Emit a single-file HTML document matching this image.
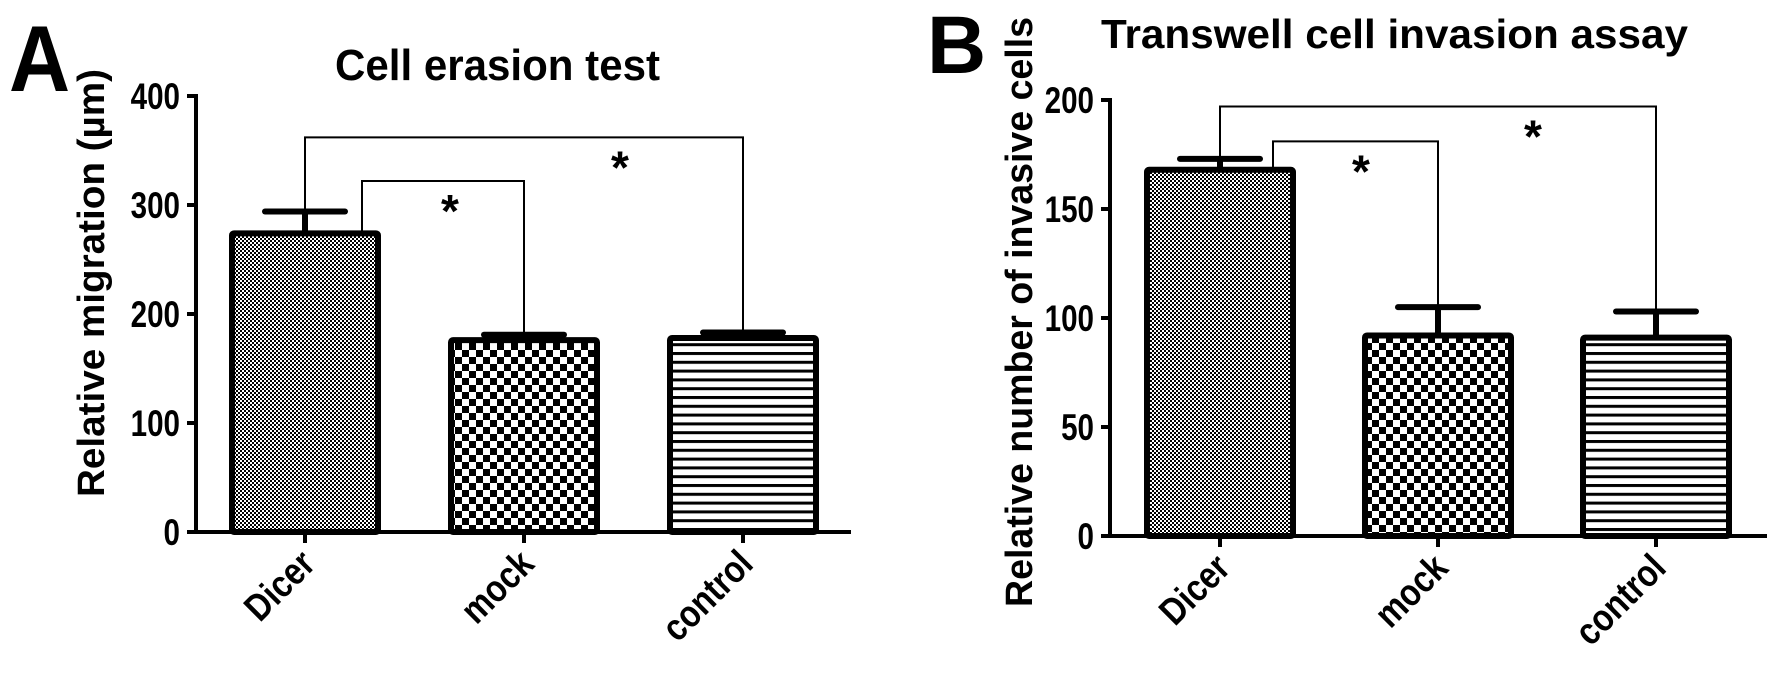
<!DOCTYPE html>
<html><head><meta charset="utf-8"><style>
html,body{margin:0;padding:0;background:#fff;}
svg{display:block;}
text{font-family:"Liberation Sans",sans-serif;font-weight:bold;fill:#000;}
</style></head><body>
<svg id="fig" width="1769" height="680" viewBox="0 0 1769 680" xmlns="http://www.w3.org/2000/svg">
<defs>
<pattern id="pFine" width="4" height="4" patternUnits="userSpaceOnUse">
<rect width="4" height="4" fill="#000"/><rect x="0" y="0" width="2" height="2" fill="#fff"/><rect x="2" y="2" width="2" height="2" fill="#fff"/>
</pattern>
<pattern id="pCheck" width="14" height="14" patternUnits="userSpaceOnUse">
<rect width="14" height="14" fill="#fff"/><rect x="0" y="0" width="7" height="7" fill="#000"/><rect x="7" y="7" width="7" height="7" fill="#000"/>
</pattern>
<pattern id="pStripe" width="10" height="8.8" patternUnits="userSpaceOnUse">
<rect width="10" height="8.8" fill="#fff"/><rect x="0" y="0" width="10" height="3" fill="#000"/>
</pattern>
</defs>
<text transform="translate(9,91) scale(0.9,1)" font-size="94">A</text>
<text transform="translate(927,73) scale(1.0,1)" font-size="82">B</text>
<text x="335" y="80" font-size="44" textLength="325" lengthAdjust="spacingAndGlyphs">Cell erasion test</text>
<text x="1101" y="48" font-size="41" textLength="587" lengthAdjust="spacingAndGlyphs">Transwell cell invasion assay</text>
<text transform="translate(104,283) rotate(-90)" text-anchor="middle" font-size="38" textLength="428" lengthAdjust="spacingAndGlyphs">Relative migration (µm)</text>
<text transform="translate(1032,312) rotate(-90)" text-anchor="middle" font-size="38" textLength="590" lengthAdjust="spacingAndGlyphs">Relative number of invasive cells</text>
<g id="chartA"></g>
<g id="chartB"></g>
</svg>
<script>
const categories = ["Dicer", "mock", "control"];
const valuesA = [274, 176, 178];
const errorsA = [20, 5, 5];
const ticksA = [0, 100, 200, 300, 400];
const valuesB = [168, 92, 91];
const errorsB = [5, 13, 12];
const ticksB = [0, 50, 100, 150, 200];
const patterns = ["url(#pFine)", "url(#pCheck)", "url(#pStripe)"];

const NS = "http://www.w3.org/2000/svg";
function mk(parent, tag, attrs) {
  const e = document.createElementNS(NS, tag);
  for (const k in attrs) e.setAttribute(k, attrs[k]);
  parent.appendChild(e);
  return e;
}

function drawChart(g, cfg, values, errors, ticks) {
  const y = v => cfg.y0 - (v - cfg.min) / (cfg.max - cfg.min) * (cfg.y0 - cfg.yTop);
  const cx = i => cfg.firstCenter + i * cfg.step;
  const ya = mk(g, "line", {x1: cfg.ax, y1: y(cfg.max) - 2, x2: cfg.ax, y2: cfg.y0 + 2, stroke: "#000", "stroke-width": 4});
  
  
  const xa = mk(g, "line", {x1: cfg.ax - 2, y1: cfg.y0, x2: cfg.xEnd, y2: cfg.y0, stroke: "#000", "stroke-width": 4});
  
  
  ticks.forEach(t => {
    const tk = mk(g, "line", {x1: cfg.ax - 9, y1: y(t), x2: cfg.ax, y2: y(t), stroke: "#000", "stroke-width": 4});
    
    
    const tl = mk(g, "text", {transform: `translate(${cfg.ax - 16},${y(t) + 13}) scale(0.8,1)`, "text-anchor": "end", "font-size": 37});
    tl.textContent = t;
    
    
  });
  values.forEach((v, i) => {
    const c = cx(i);
    const bw = cfg.barW;
    const st = mk(g, "line", {x1: c, y1: y(v), x2: c, y2: y(v + errors[i]), stroke: "#000", "stroke-width": 6});
    
    
    const cap = mk(g, "line", {x1: c - 40, y1: y(v + errors[i]), x2: c + 40, y2: y(v + errors[i]), stroke: "#000", "stroke-width": 6, "stroke-linecap": "round"});
    
    
    const r = mk(g, "rect", {x: c - bw / 2, y: y(v), width: bw, height: cfg.y0 - y(v), fill: patterns[i], stroke: "#000", "stroke-width": 6, rx: 2});
    
    
    const xt = mk(g, "line", {x1: c, y1: cfg.y0, x2: c, y2: cfg.y0 + 11, stroke: "#000", "stroke-width": 4});
    
    
    const lab = mk(g, "text", {transform: `translate(${c + 12},${cfg.y0 + 34}) rotate(-45) scale(0.85,1)`, "text-anchor": "end", "font-size": 38});
    lab.textContent = categories[i];
    
    
  });
  cfg.brackets.forEach(b => {
    const x1 = b.fromOffset + cx(b.from), x2 = cx(b.to);
    const yTop = y(b.level);
    const yL = b.fromOffset ? y(values[b.from]) : y(values[b.from] + errors[b.from]);
    const yR = y(values[b.to] + errors[b.to]);
    const p = mk(g, "polyline", {points: `${x1},${yL} ${x1},${yTop} ${x2},${yTop} ${x2},${yR}`, fill: "none", stroke: "#000", "stroke-width": 2});
    
    
    const s = mk(g, "text", {x: b.starX, y: yTop + 46, "text-anchor": "middle", "font-size": 46});
    s.textContent = "*";
    
    
  });
}

drawChart(document.getElementById("chartA"), {
  ax: 196, y0: 532, yTop: 96, min: 0, max: 400, xEnd: 851,
  firstCenter: 305, step: 219, barW: 146,
  brackets: [
    {from: 0, to: 1, fromOffset: 57, level: 322, starX: 450},
    {from: 0, to: 2, fromOffset: 0, level: 362, starX: 620}
  ]
}, valuesA, errorsA, ticksA);

drawChart(document.getElementById("chartB"), {
  ax: 1110, y0: 536, yTop: 100, min: 0, max: 200, xEnd: 1767,
  firstCenter: 1220, step: 218, barW: 146,
  brackets: [
    {from: 0, to: 1, fromOffset: 53, level: 181, starX: 1361},
    {from: 0, to: 2, fromOffset: 0, level: 197, starX: 1533}
  ]
}, valuesB, errorsB, ticksB);
</script>
</body></html>
